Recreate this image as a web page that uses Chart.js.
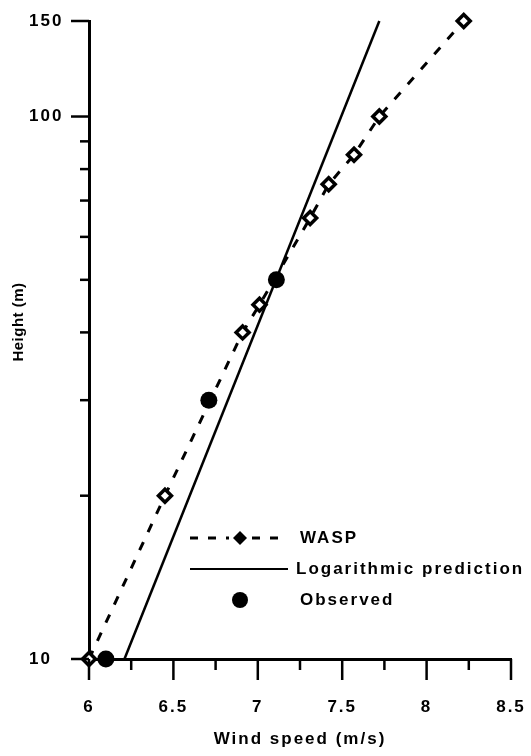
<!DOCTYPE html>
<html>
<head>
<meta charset="utf-8">
<script src="https://cdn.jsdelivr.net/npm/chart.js@4/dist/chart.umd.min.js"></script>
<style>
html,body{margin:0;padding:0;background:#fff;}
#wrap{width:531px;height:756px;position:relative;}
canvas{display:block;}
</style>
</head>
<body>
<div id="wrap"><canvas id="c" width="531" height="756"></canvas></div>
<script>
// ---- data ----
const waspSpeed  = [6.00, 6.45, 6.91, 7.01, 7.31, 7.42, 7.57, 7.72, 8.22];
const waspHeight = [10, 20, 40, 45, 65, 75, 85, 100, 150];
const obsSpeed   = [6.10, 6.71, 7.11];
const obsHeight  = [10, 30, 50];
const logSpeed   = [6.21, 7.72];
const logHeight  = [10, 150];
const xMajorTicks = [6, 6.5, 7, 7.5, 8, 8.5];
const xMinorTicks = [6.25, 6.75, 7.25, 7.75, 8.25];
const yMajorTicks = [10, 100, 150];
const yMinorTicks = [20, 30, 40, 50, 60, 70, 80, 90];
const seriesLabels = ['WASP', 'Logarithmic prediction', 'Observed'];
const xTitle = 'Wind speed (m/s)';
const yTitle = 'Height (m)';

const FONT = '"Liberation Sans", Arial, Helvetica, sans-serif';
Chart.defaults.font.family = FONT;
Chart.defaults.color = '#000';

function zip(xs, ys) { return xs.map((v, i) => ({ x: v, y: ys[i] })); }

const spacingPlugin = {
  id: 'spacing',
  beforeDraw(chart) { chart.ctx.letterSpacing = '2px'; }
};

const tickMarksPlugin = {
  id: 'tickMarks',
  afterDraw(chart) {
    const { ctx, chartArea, scales: { x, y } } = chart;
    ctx.save();
    ctx.strokeStyle = '#000';
    ctx.lineWidth = 2.5;
    const line = (x1, y1, x2, y2) => { ctx.beginPath(); ctx.moveTo(x1, y1); ctx.lineTo(x2, y2); ctx.stroke(); };
    const yb = chartArea.bottom, xl = chartArea.left;
    xMajorTicks.forEach(v => { const p = x.getPixelForValue(v); line(p, yb, p, yb + 21); });
    xMinorTicks.forEach(v => { const p = x.getPixelForValue(v); line(p, yb, p, yb + 11); });
    yMajorTicks.forEach(v => { const p = y.getPixelForValue(v); line(xl - 18, p, xl, p); });
    yMinorTicks.forEach(v => { const p = y.getPixelForValue(v); line(xl - 9, p, xl, p); });
    ctx.restore();
  }
};

const legendPlugin = {
  id: 'customLegend',
  afterDraw(chart) {
    const ctx = chart.ctx;
    const ds = chart.data.datasets;
    ctx.save();
    ctx.letterSpacing = '2px';
    ctx.fillStyle = '#000';
    ctx.strokeStyle = '#000';
    ctx.font = 'bold 17px ' + FONT;
    ctx.textAlign = 'left';
    ctx.textBaseline = 'middle';
    const lx0 = 190, lx1 = 284, tx = 300;
    const rows = [538, 569, 600];
    // WASP: dashed line + filled diamond
    ctx.lineWidth = 3;
    ctx.setLineDash([8, 10]);
    ctx.beginPath(); ctx.moveTo(lx0, rows[0]); ctx.lineTo(229, rows[0]); ctx.stroke();
    ctx.beginPath(); ctx.moveTo(252, rows[0]); ctx.lineTo(lx1, rows[0]); ctx.stroke();
    ctx.setLineDash([]);
    ctx.beginPath();
    ctx.moveTo(240, rows[0] - 7); ctx.lineTo(247, rows[0]); ctx.lineTo(240, rows[0] + 7); ctx.lineTo(233, rows[0]);
    ctx.closePath(); ctx.fill();
    ctx.fillText(ds[0].label, tx, rows[0]);
    // Log prediction: solid line
    ctx.lineWidth = 2;
    ctx.beginPath(); ctx.moveTo(lx0, rows[1]); ctx.lineTo(lx1 + 4, rows[1]); ctx.stroke();
    ctx.fillText(ds[1].label, tx - 4, rows[1]);
    // Observed: filled circle
    ctx.beginPath(); ctx.arc(240, rows[2], 8, 0, Math.PI * 2); ctx.fill();
    ctx.fillText(ds[2].label, tx, rows[2]);
    ctx.restore();
  }
};

const yTitlePlugin = {
  id: 'yTitle',
  afterDraw(chart) {
    const ctx = chart.ctx;
    ctx.save();
    ctx.letterSpacing = '0.5px';
    ctx.translate(19, 322);
    ctx.rotate(-Math.PI / 2);
    ctx.font = 'bold 15px ' + FONT;
    ctx.fillStyle = '#000';
    ctx.textAlign = 'center';
    ctx.textBaseline = 'middle';
    ctx.fillText(yTitle, 0, 0);
    ctx.restore();
  }
};

function noPad(s) { s.paddingTop = 0; s.paddingBottom = 0; s.paddingLeft = 0; s.paddingRight = 0; }

new Chart(document.getElementById('c'), {
  type: 'scatter',
  data: {
    datasets: [
      {
        label: seriesLabels[0],
        data: zip(waspSpeed, waspHeight),
        showLine: true,
        borderColor: '#000',
        borderWidth: 3,
        borderDash: [9, 11],
        pointStyle: 'rectRot',
        pointRadius: 6.5,
        pointBorderWidth: 3.5,
        pointBackgroundColor: '#fff',
        pointBorderColor: '#000',
        clip: false
      },
      {
        label: seriesLabels[1],
        data: zip(logSpeed, logHeight),
        showLine: true,
        borderColor: '#000',
        borderWidth: 2.5,
        pointRadius: 0,
        clip: false
      },
      {
        label: seriesLabels[2],
        data: zip(obsSpeed, obsHeight),
        showLine: false,
        pointStyle: 'circle',
        pointRadius: 8.5,
        pointBackgroundColor: '#000',
        pointBorderColor: '#000',
        pointBorderWidth: 0,
        clip: false
      }
    ]
  },
  options: {
    responsive: false,
    animation: false,
    devicePixelRatio: 1,
    layout: { padding: { left: 29, right: 20, top: 21, bottom: 0 } },
    plugins: { legend: { display: false }, tooltip: { enabled: false } },
    scales: {
      x: {
        type: 'linear',
        min: 6, max: 8.5,
        afterBuildTicks: s => { s.ticks = xMajorTicks.map(v => ({ value: v })); },
        ticks: { padding: 38, font: { size: 17, weight: 'bold' }, color: '#000', maxRotation: 0, autoSkip: false, callback: v => String(v) },
        grid: { display: false, drawTicks: false },
        border: { display: true, color: '#000', width: 3 },
        title: { display: true, text: xTitle, font: { size: 17, weight: 'bold' }, color: '#000', padding: { top: 0, bottom: 6 } },
        afterFit: s => { s.height = 97; noPad(s); }
      },
      y: {
        type: 'logarithmic',
        min: 10, max: 150,
        afterBuildTicks: s => { s.ticks = yMajorTicks.map(v => ({ value: v })); },
        ticks: { crossAlign: 'far', padding: 22, font: { size: 17, weight: 'bold' }, color: '#000', autoSkip: false, callback: v => String(v) },
        grid: { display: false, drawTicks: false },
        border: { display: true, color: '#000', width: 3 },
        afterFit: s => { s.width = 60; noPad(s); }
      }
    }
  },
  plugins: [spacingPlugin, tickMarksPlugin, legendPlugin, yTitlePlugin]
});
</script>
</body>
</html>
